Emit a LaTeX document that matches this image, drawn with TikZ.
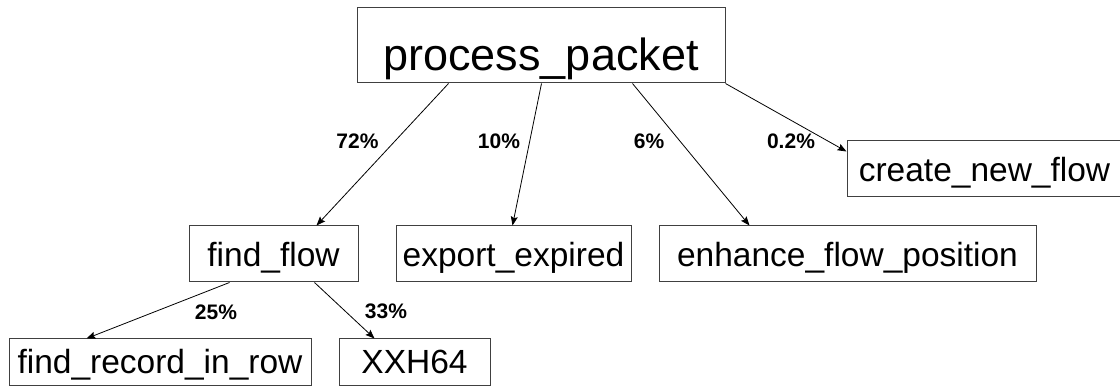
\documentclass[tikz,border=0pt]{standalone}
\usepackage{fontspec}
\setmainfont{Liberation Sans}
\usetikzlibrary{arrows.meta}

\begin{document}
\begin{tikzpicture}[x=1pt,y=-1pt,
  fn/.style={draw=black!75, line width=1pt, inner sep=0pt, anchor=center,
    font=\fontsize{33.5}{40}\selectfont, text height=26pt, text depth=0pt},
  root/.style={fn, font=\fontsize{45}{54}\selectfont, text height=51pt},
  pct/.style={inner sep=0pt, font=\fontsize{21}{25}\selectfont\bfseries,
    text height=15pt, text depth=0pt},
  call/.style={line width=0.8pt, -{Stealth[length=9pt,width=7pt,inset=1.5pt]}}]

\useasboundingbox (0,0) rectangle (1120,387);

% call tree nodes
\node[root, minimum width=368pt, minimum height=75pt] (pp)  at (541,45.5)   {process\_packet};
\node[fn, minimum width=275pt, minimum height=56pt]   (cnf) at (984.5,169)  {create\_new\_flow};
\node[fn, minimum width=169pt, minimum height=56pt]   (ff)  at (273.5,254)  {find\_flow};
\node[fn, minimum width=235pt, minimum height=56pt]   (ee)  at (513.5,254)  {export\_expired};
\node[fn, minimum width=377pt, minimum height=56pt]   (efp) at (847.5,254)  {enhance\_flow\_position};
\node[fn, minimum width=302pt, minimum height=47pt, text height=23pt] (frr) at (160,362.5) {find\_record\_in\_row};
\node[fn, minimum width=151pt, minimum height=47pt, text height=23pt] (xxh) at (414.5,362.5) {XXH64};

% calls with their share of time
\draw[call] ([xshift=92pt]pp.south west)  -- ([xshift=128pt]ff.north west);
\draw[call] ([xshift=185pt]pp.south west) -- ([xshift=117pt]ee.north west);
\draw[call] ([xshift=276pt]pp.south west) -- ([xshift=91pt]efp.north west);
\draw[call] (pp.south east) -- ([yshift=-11pt]cnf.north west);
\draw[call] ([xshift=41pt]ff.south west)  -- ([xshift=78pt]frr.north west);
\draw[call] ([xshift=126pt]ff.south west) -- ([xshift=36pt]xxh.north west);

\node[pct] (l1) at (357.5,141.5) {72\%};
\node[pct] (l2) at (499,141.5)   {10\%};
\node[pct] (l3) at (649,141.5)   {6\%};
\node[pct] (l4) at (791,141.5)   {0.2\%};
\node[pct] (l5) at (216,312.5)   {25\%};
\node[pct] (l6) at (386,311.5)   {33\%};
\end{tikzpicture}
\end{document}
